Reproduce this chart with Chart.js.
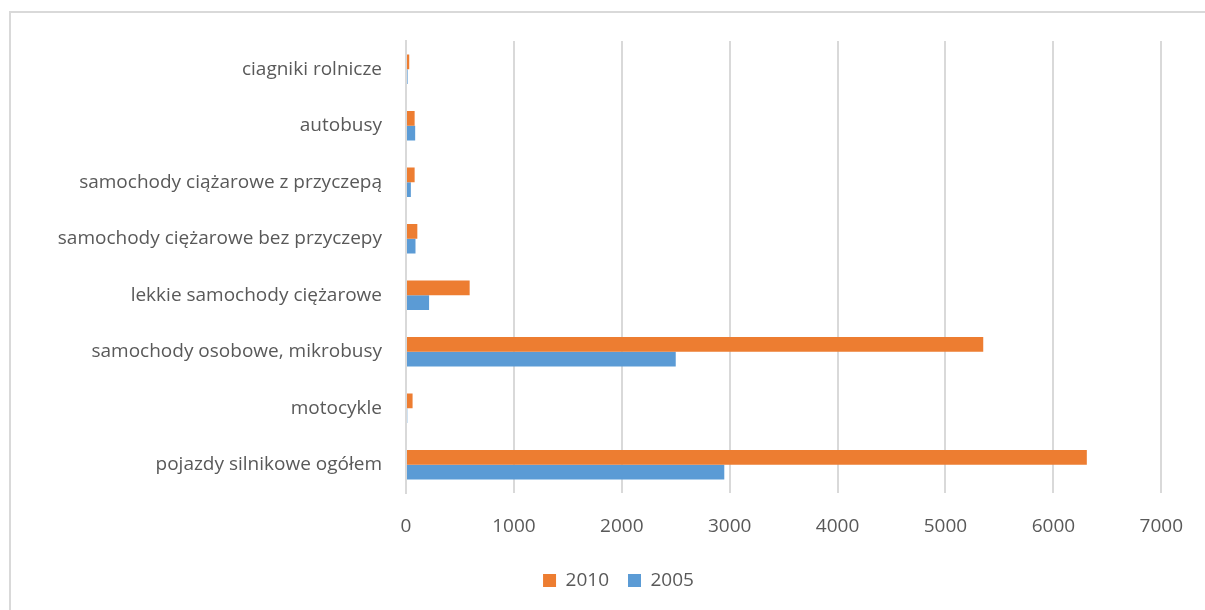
<!DOCTYPE html>
<html>
<head>
<meta charset="utf-8">
<script src="https://cdn.jsdelivr.net/npm/chart.js@4"></script>
<style>
  html, body { margin: 0; padding: 0; background: #fff; }
  #wrap { position: relative; width: 1205px; height: 610px; overflow: hidden; }
  #frame { position: absolute; left: 9px; top: 11px; width: 1300px; height: 700px;
           border: 2px solid #D9D9D9; box-sizing: border-box; }
  canvas { position: absolute; left: 0; top: 0; }
</style>
</head>
<body>
<div id="wrap">
  <div id="frame"></div>
  <canvas id="c" width="1205" height="610"></canvas>
</div>
<script>
// Vehicle categories, top to bottom
const categories = [
  "ciagniki rolnicze",
  "autobusy",
  "samochody ciążarowe z przyczepą",
  "samochody ciężarowe bez przyczepy",
  "lekkie samochody ciężarowe",
  "samochody osobowe, mikrobusy",
  "motocykle",
  "pojazdy silnikowe ogółem"
];
const values2010 = [30, 80, 80, 105, 590, 5350, 61, 6310];
const values2005 = [15, 85, 45, 88, 214, 2500, 12, 2950];
const seriesNames = ["2010", "2005"];
const xTicks = [0, 1000, 2000, 3000, 4000, 5000, 6000, 7000];

const FONT = "'Open Sans', sans-serif";
const TEXT = "#595959";
const GRID = "#D9D9D9";

// Centre the legend under the whole framed panel rather than the canvas box
const legendShift = {
  id: "legendShift",
  afterLayout(chart) {
    const lg = chart.legend;
    if (!lg) return;
    const dx = 36;
    lg.left += dx;
    lg.right += dx;
    if (lg.legendHitBoxes) lg.legendHitBoxes.forEach(b => { b.left += dx; });
  }
};

new Chart(document.getElementById("c"), {
  type: "bar",
  data: {
    labels: categories,
    datasets: [
      { label: seriesNames[0], data: values2010, backgroundColor: "#ED7D31",
        categoryPercentage: 0.525, barPercentage: 1.0 },
      { label: seriesNames[1], data: values2005, backgroundColor: "#5B9BD5",
        categoryPercentage: 0.525, barPercentage: 1.0 }
    ]
  },
  plugins: [legendShift],
  options: {
    indexAxis: "y",
    responsive: false,
    animation: false,
    devicePixelRatio: 1,
    layout: { padding: { left: 0, right: 40, top: 41, bottom: 10 } },
    plugins: {
      tooltip: { enabled: false },
      legend: {
        position: "bottom",
        labels: {
          font: { family: FONT, size: 19 },
          color: TEXT,
          boxWidth: 13,
          boxHeight: 13,
          padding: 19
        }
      }
    },
    scales: {
      x: {
        min: xTicks[0],
        max: xTicks[xTicks.length - 1],
        afterBuildTicks: (scale) => { scale.ticks = xTicks.map(v => ({ value: v })); },
        grid: { color: GRID, lineWidth: 2, drawTicks: false },
        border: { display: false },
        ticks: {
          font: { family: FONT, size: 19 }, color: TEXT, padding: 22,
          callback: (v) => String(v)
        },
        afterFit: (scale) => { scale.height = 59; }
      },
      y: {
        grid: { display: false, drawTicks: false },
        border: { display: true, color: GRID, width: 2 },
        ticks: { font: { family: FONT, size: 19 }, color: TEXT, padding: 24 },
        afterFit: (scale) => { scale.width = 406; }
      }
    }
  }
});
</script>
</body>
</html>
